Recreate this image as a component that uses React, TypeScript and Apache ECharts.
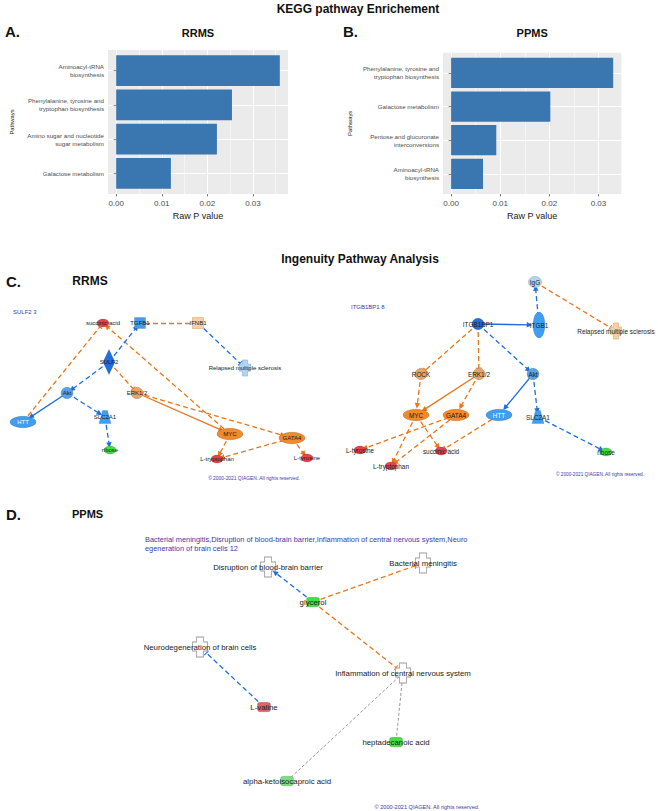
import React, { useEffect, useRef } from 'react';
import * as echarts from 'echarts';

// ---------------- KEGG pathway enrichment (raw P values) ----------------
const rrmsPathways = [
  'Aminoacyl-tRNA\nbiosynthesis',
  'Phenylalanine, tyrosine and\ntryptophan biosynthesis',
  'Amino sugar and nucleotide\nsugar metabolism',
  'Galactose metabolism',
];
const rrmsRawP = [0.0359, 0.0254, 0.0221, 0.012];

const ppmsPathways = [
  'Phenylalanine, tyrosine and\ntryptophan biosynthesis',
  'Galactose metabolism',
  'Pentose and glucuronate\ninterconversions',
  'Aminoacyl-tRNA\nbiosynthesis',
];
const ppmsRawP = [0.033, 0.0202, 0.0092, 0.0065];

const pValueTicks = [0, 0.01, 0.02, 0.03];
const pValueMinorTicks = [0.005, 0.015, 0.025, 0.035];

// ---------------- IPA network 1 (RRMS, SULF2) ----------------
const net1Nodes = ['succinic acid', 'TGFB1', 'IFNB1', 'SULF2', 'Relapsed multiple sclerosis', 'Akt', 'ERK1/2', 'HTT', 'SLC2A1', 'ribose', 'MYC', 'GATA4', 'L-tryptophan', 'L-tyrosine'];
const net1Kinds = ['chemical', 'cytokine', 'cytokine', 'enzyme', 'disease', 'kinase', 'group', 'tf', 'transporter', 'chemical', 'tf', 'tf', 'chemical', 'chemical'];
const net1States = ['up', 'inhibited', 'activatedPale', 'inhibitedStrong', 'inhibitedPale', 'inhibitedMid', 'activatedLight', 'inhibited', 'inhibited', 'down', 'activated', 'activated', 'up', 'up'];
const net1LayoutX = [103, 140, 198, 109, 245, 67, 137, 23, 105, 110, 230, 292, 217, 307];
const net1LayoutY = [53, 53, 53, 92, 98, 123, 123, 152, 147, 180, 164, 168, 189, 188];
const net1Edges = [
  ['HTT', 'succinic acid', 'activation', 'indirect', 'leadsTo'],
  ['MYC', 'succinic acid', 'activation', 'indirect', 'actsOn'],
  ['IFNB1', 'TGFB1', 'activation', 'indirect', 'none'],
  ['IFNB1', 'Relapsed multiple sclerosis', 'inhibition', 'indirect', 'leadsTo'],
  ['SULF2', 'TGFB1', 'inhibition', 'indirect', 'actsOn'],
  ['SULF2', 'Akt', 'inhibition', 'indirect', 'actsOn'],
  ['SULF2', 'ERK1/2', 'activation', 'indirect', 'leadsTo'],
  ['Akt', 'HTT', 'inhibition', 'direct', 'actsOn'],
  ['Akt', 'SLC2A1', 'inhibition', 'indirect', 'actsOn'],
  ['SLC2A1', 'ribose', 'inhibition', 'indirect', 'actsOn'],
  ['ERK1/2', 'MYC', 'activation', 'direct', 'actsOn'],
  ['ERK1/2', 'GATA4', 'activation', 'indirect', 'actsOn'],
  ['MYC', 'L-tryptophan', 'activation', 'indirect', 'actsOn'],
  ['GATA4', 'L-tryptophan', 'activation', 'indirect', 'actsOn'],
  ['GATA4', 'L-tyrosine', 'activation', 'indirect', 'actsOn'],
];

// ---------------- IPA network 2 (RRMS, ITGB1BP1) ----------------
const net2Nodes = ['IgG', 'ITGB1BP1', 'ITGB1', 'Relapsed multiple sclerosis', 'ROCK', 'ERK1/2', 'Akt', 'MYC', 'GATA4', 'HTT', 'SLC2A1', 'L-tyrosine', 'succinic acid', 'L-tryptophan', 'ribose'];
const net2Kinds = ['complex', 'kinase', 'receptor', 'disease', 'group', 'group', 'kinase', 'tf', 'tf', 'tf', 'transporter', 'chemical', 'chemical', 'chemical', 'chemical'];
const net2States = ['inhibitedPale', 'inhibitedStrong', 'inhibited', 'activatedPale', 'activatedLight', 'activatedLight', 'inhibitedMid', 'activated', 'activated', 'inhibited', 'inhibited', 'up', 'up', 'up', 'down'];
const net2LayoutX = [207, 150, 211, 288, 93, 151, 205, 88, 128, 171, 210, 32, 113, 63, 278];
const net2LayoutY = [12, 54, 55, 61, 104, 104, 104, 145, 145, 145, 147, 180, 181, 196, 182];
const net2Edges = [
  ['ITGB1', 'IgG', 'inhibition', 'indirect', 'actsOn'],
  ['IgG', 'Relapsed multiple sclerosis', 'activation', 'indirect', 'leadsTo'],
  ['ITGB1BP1', 'ITGB1', 'inhibition', 'direct', 'actsOn'],
  ['ITGB1BP1', 'ROCK', 'activation', 'indirect', 'leadsTo'],
  ['ITGB1BP1', 'ERK1/2', 'activation', 'indirect', 'leadsTo'],
  ['ITGB1BP1', 'Akt', 'inhibition', 'indirect', 'actsOn'],
  ['ROCK', 'MYC', 'activation', 'indirect', 'actsOn'],
  ['ERK1/2', 'MYC', 'activation', 'direct', 'actsOn'],
  ['ERK1/2', 'GATA4', 'activation', 'indirect', 'actsOn'],
  ['Akt', 'HTT', 'inhibition', 'direct', 'actsOn'],
  ['Akt', 'SLC2A1', 'inhibition', 'indirect', 'actsOn'],
  ['SLC2A1', 'ribose', 'inhibition', 'indirect', 'actsOn'],
  ['GATA4', 'L-tyrosine', 'activation', 'indirect', 'actsOn'],
  ['MYC', 'L-tryptophan', 'activation', 'indirect', 'actsOn'],
  ['GATA4', 'L-tryptophan', 'activation', 'indirect', 'actsOn'],
  ['MYC', 'succinic acid', 'activation', 'indirect', 'actsOn'],
  ['HTT', 'succinic acid', 'activation', 'indirect', 'leadsTo'],
];

// ---------------- IPA network 3 (PPMS) ----------------
const net3Nodes = ['Disruption of blood-brain barrier', 'Bacterial meningitis', 'glycerol', 'Neurodegeneration of brain cells', 'Inflammation of central nervous system', 'L-valine', 'heptadecanoic acid', 'alpha-ketoisocaproic acid'];
const net3Kinds = ['disease', 'disease', 'chemicalD', 'disease', 'disease', 'chemicalD', 'chemicalD', 'chemicalD'];
const net3States = ['none', 'none', 'down', 'none', 'none', 'upSoft', 'down', 'downLight'];
const net3LayoutX = [168, 323, 213, 100, 303, 164, 296, 187];
const net3LayoutY = [27, 23, 62, 107, 133, 167, 202, 241];
const net3Edges = [
  ['glycerol', 'Disruption of blood-brain barrier', 'inhibition', 'indirect', 'actsOn'],
  ['glycerol', 'Bacterial meningitis', 'activation', 'indirect', 'leadsTo'],
  ['glycerol', 'Inflammation of central nervous system', 'activation', 'indirect', 'leadsTo'],
  ['L-valine', 'Neurodegeneration of brain cells', 'inhibition', 'indirect', 'leadsTo'],
  ['Inflammation of central nervous system', 'heptadecanoic acid', 'unknown', 'indirect', 'none'],
  ['Inflammation of central nervous system', 'alpha-ketoisocaproic acid', 'unknown', 'indirect', 'none'],
];
const net3Header = [
  'Bacterial meningitis,Disruption of blood-brain barrier,Inflammation of central nervous system,Neuro',
  'egeneration of brain cells 12',
];

// ---------------- styles ----------------
const FONT = 'Liberation Sans, Arial, Helvetica, sans-serif';
const IPA_BLUE_TEXT = '#3b3aa6';
const COPYRIGHT = '\u00a9 2000-2021 QIAGEN. All rights reserved.';

const ELLIPSE = 'path://M5,0C7.76,0,10,2.24,10,5C10,7.76,7.76,10,5,10C2.24,10,0,7.76,0,5C0,2.24,2.24,0,5,0Z';
const CROSS = 'path://M4,0H11V5H15V14H11V20H4V14H0V5H4Z';
const TRAPEZOID = 'path://M3,0H7L10,10H0Z';
const BAR_END = 'path://M0,4.1H10V5.9H0Z M5,0H5.02V10H5Z';

const stateColor: Record<string, string> = {
  up: '#e8434c',
  upSoft: '#e06468',
  down: '#3fe03f',
  downLight: '#7ae07a',
  activated: '#f08a2c',
  activatedLight: '#eca466',
  activatedPale: '#f8cfa2',
  inhibited: '#3f9ef0',
  inhibitedMid: '#5aa2e6',
  inhibitedStrong: '#1f6fdc',
  inhibitedPale: '#b2d5f3',
  none: '#ffffff',
};
const stateBorder: Record<string, string> = {
  none: '#9a9a9a',
  activatedPale: '#d9ab78',
  inhibitedPale: '#86afd8',
};
const edgeColor: Record<string, string> = {
  activation: '#e8761c',
  inhibition: '#1c6fdc',
  unknown: '#8a8a8a',
};

function shapeOf(kind: string, large: boolean) {
  switch (kind) {
    case 'chemical': return { symbol: ELLIPSE, size: [12, 8] };
    case 'chemicalD': return { symbol: 'roundRect', size: [13, 9.5] };
    case 'cytokine': return { symbol: 'rect', size: [11, 11] };
    case 'enzyme': return { symbol: 'diamond', size: [12, 25] };
    case 'disease': return { symbol: CROSS, size: large ? [15, 20] : [11, 16] };
    case 'tf': return { symbol: ELLIPSE, size: [26, 11.5] };
    case 'transporter': return { symbol: TRAPEZOID, size: [12, 13] };
    case 'receptor': return { symbol: ELLIPSE, size: [12, 26] };
    case 'complex': return { symbol: ELLIPSE, size: [13, 11] };
    default: return { symbol: ELLIPSE, size: [12, 11.5] };
  }
}

function buildNetwork(
  names: string[], xs: number[], ys: number[], kinds: string[], states: string[],
  edges: string[][], xAxisIndex: number, yAxisIndex: number, fontSize: number, large: boolean
) {
  const data = names.map((name, i) => {
    const shape = shapeOf(kinds[i], large);
    const st = states[i];
    const whiteText = kinds[i] === 'tf' && st.indexOf('inhibited') === 0;
    return {
      name,
      value: [xs[i], ys[i]],
      symbol: shape.symbol,
      symbolSize: shape.size,
      itemStyle: {
        color: stateColor[st],
        borderColor: stateBorder[st] || 'rgba(0,0,0,0.22)',
        borderWidth: st === 'none' ? 0.9 : 0.6,
      },
      label: { color: whiteText ? '#ffffff' : '#1a1a1a' },
    };
  });
  const links = edges.map(([source, target, effect, mode, end]) => ({
    source,
    target,
    symbol: ['none', end === 'actsOn' ? 'triangle' : end === 'leadsTo' ? BAR_END : 'none'],
    symbolSize: end === 'actsOn' ? 5.5 : 6,
    lineStyle: {
      color: edgeColor[effect],
      width: effect === 'unknown' ? 0.9 : 1.3,
      type: mode === 'direct' ? 'solid' : effect === 'unknown' ? [3, 2] : [5, 3],
      opacity: 1,
      curveness: 0,
    },
  }));
  return {
    type: 'graph',
    coordinateSystem: 'cartesian2d',
    xAxisIndex,
    yAxisIndex,
    data,
    links,
    silent: true,
    emphasis: { disabled: true },
    label: { show: true, position: 'inside', fontSize, fontFamily: FONT, color: '#1a1a1a' },
    z: 3,
  };
}

function ggExtent(values: number[]) {
  const m = Math.max(...values);
  return [-m * 0.05, m * 1.05];
}

const PANEL_A = { left: 108, top: 50, width: 180, height: 144 };
const PANEL_B = { left: 443, top: 52.7, width: 178.3, height: 141.3 };

function barGrid(p: { left: number; top: number; width: number; height: number }) {
  const unit = p.height / 4.2;
  return { left: p.left, top: p.top + 0.1 * unit, width: p.width, height: unit * 4, show: false };
}

function panelXAxes(gridIndex: number, ext: number[]) {
  return [
    {
      type: 'value', gridIndex, min: ext[0], max: ext[1],
      name: 'Raw P value', nameLocation: 'middle', nameGap: 17,
      nameTextStyle: { fontSize: 9, color: '#1a1a1a', fontFamily: FONT },
      axisLine: { show: false },
      axisTick: { show: true, length: 2.5, lineStyle: { color: '#4d4d4d', width: 0.7 }, customValues: pValueTicks },
      axisLabel: {
        customValues: pValueTicks, fontSize: 8, color: '#4d4d4d', margin: 5, fontFamily: FONT,
        formatter: (v: number) => v.toFixed(2),
      },
      splitLine: { show: true, lineStyle: { color: '#ffffff', width: 1.1 } },
    },
    {
      type: 'value', gridIndex, min: ext[0], max: ext[1],
      axisLine: { show: false },
      axisTick: { show: false, customValues: pValueMinorTicks },
      axisLabel: { show: false, customValues: pValueMinorTicks },
      splitLine: { show: true, lineStyle: { color: '#ffffff', width: 0.5 } },
    },
    { type: 'value', gridIndex: gridIndex + 1, min: ext[0], max: ext[1], show: false },
  ];
}

function panelYAxes(gridIndex: number, names: string[], nameGap: number) {
  const idx = names.map((_, i) => i + 1);
  return [
    {
      type: 'value', gridIndex, min: 0.4, max: 4.6, inverse: true,
      name: 'Pathways', nameLocation: 'middle', nameRotate: 90, nameGap,
      nameTextStyle: { fontSize: 5.8, color: '#1a1a1a', fontFamily: FONT },
      axisLine: { show: false },
      axisTick: { show: true, length: 2.5, lineStyle: { color: '#4d4d4d', width: 0.7 }, customValues: idx },
      axisLabel: {
        customValues: idx, fontSize: 6.2, lineHeight: 8, color: '#4d4d4d', margin: 4, fontFamily: FONT,
        formatter: (v: number) => names[Math.round(v) - 1] || '',
      },
      splitLine: { show: true, lineStyle: { color: '#ffffff', width: 1.1 } },
    },
    { type: 'category', gridIndex: gridIndex + 1, data: names, inverse: true, show: false },
  ];
}

function txt(text: string, x: number, y: number, fontSize: number, opts: any = {}) {
  return {
    type: 'text', x, y, silent: true,
    style: {
      text, fontSize, fontFamily: FONT, fill: opts.fill || '#111111',
      fontWeight: opts.bold ? 'bold' : 'normal',
      align: opts.align || 'left', verticalAlign: 'middle',
    },
  };
}

export default function App() {
  const ref = useRef<HTMLDivElement>(null);
  useEffect(() => {
    if (!ref.current) return;
    const chart = echarts.init(ref.current, undefined, { renderer: 'svg' });
    const extA = ggExtent(rrmsRawP);
    const extB = ggExtent(ppmsRawP);
    const option: any = {
      animation: false,
      backgroundColor: '#ffffff',
      textStyle: { fontFamily: FONT },
      grid: [
        { ...PANEL_A, show: true, backgroundColor: '#ebebeb', borderWidth: 0 },
        barGrid(PANEL_A),
        { ...PANEL_B, show: true, backgroundColor: '#ebebeb', borderWidth: 0 },
        barGrid(PANEL_B),
        { left: 0, top: 270, width: 330, height: 220, show: false },
        { left: 328, top: 270, width: 330, height: 220, show: false },
        { left: 100, top: 540, width: 450, height: 271, show: false },
      ],
      xAxis: [
        ...panelXAxes(0, extA), // 0,1,2
        ...panelXAxes(2, extB), // 3,4,5
        { type: 'value', gridIndex: 4, min: 0, max: 330, show: false }, // 6
        { type: 'value', gridIndex: 5, min: 0, max: 330, show: false }, // 7
        { type: 'value', gridIndex: 6, min: 0, max: 450, show: false }, // 8
      ],
      yAxis: [
        ...panelYAxes(0, rrmsPathways, 93), // 0,1
        ...panelYAxes(2, ppmsPathways, 90), // 2,3
        { type: 'value', gridIndex: 4, min: 0, max: 220, inverse: true, show: false }, // 4
        { type: 'value', gridIndex: 5, min: 0, max: 220, inverse: true, show: false }, // 5
        { type: 'value', gridIndex: 6, min: 0, max: 271, inverse: true, show: false }, // 6
      ],
      series: [
        {
          type: 'bar', xAxisIndex: 2, yAxisIndex: 1, data: rrmsRawP,
          barCategoryGap: '10%', itemStyle: { color: '#3a76af' }, silent: true, z: 2,
        },
        {
          type: 'bar', xAxisIndex: 5, yAxisIndex: 3, data: ppmsRawP,
          barCategoryGap: '10%', itemStyle: { color: '#3a76af' }, silent: true, z: 2,
        },
        buildNetwork(net1Nodes, net1LayoutX, net1LayoutY, net1Kinds, net1States, net1Edges, 6, 4, 6, false),
        buildNetwork(net2Nodes, net2LayoutX, net2LayoutY, net2Kinds, net2States, net2Edges, 7, 5, 6.4, false),
        buildNetwork(net3Nodes, net3LayoutX, net3LayoutY, net3Kinds, net3States, net3Edges, 8, 6, 7.8, true),
      ],
      graphic: [
        txt('KEGG pathway Enrichement', 358, 9, 12, { bold: true, align: 'center' }),
        txt('A.', 5, 31, 15, { bold: true }),
        txt('B.', 343, 31, 15, { bold: true }),
        txt('RRMS', PANEL_A.left + PANEL_A.width / 2, 33, 11, { bold: true, align: 'center' }),
        txt('PPMS', PANEL_B.left + PANEL_B.width / 2, 33, 11, { bold: true, align: 'center' }),
        txt('Ingenuity Pathway Analysis', 360, 259, 12, { bold: true, align: 'center' }),
        txt('C.', 6, 281, 15, { bold: true }),
        txt('RRMS', 90, 281, 12, { bold: true, align: 'center' }),
        txt('SULF2 3', 13, 312, 6, { fill: IPA_BLUE_TEXT }),
        txt('ITGB1BP1 8', 351, 307, 6, { fill: IPA_BLUE_TEXT }),
        txt(COPYRIGHT, 254, 478, 4.9, { fill: IPA_BLUE_TEXT, align: 'center' }),
        txt(COPYRIGHT, 600, 474, 4.7, { fill: IPA_BLUE_TEXT, align: 'center' }),
        txt('D.', 6, 514, 15, { bold: true }),
        txt('PPMS', 72, 514, 11, { bold: true }),
        txt(net3Header[0], 145, 539, 7.4, { fill: IPA_BLUE_TEXT }),
        txt(net3Header[1], 145, 548, 7.4, { fill: IPA_BLUE_TEXT }),
        txt(COPYRIGHT, 427, 807, 5.6, { fill: IPA_BLUE_TEXT, align: 'center' }),
      ],
    };
    chart.setOption(option);
    return () => chart.dispose();
  }, []);
  return <div ref={ref} style={{ position: 'absolute', left: 0, top: 0, width: 658, height: 811 }} />;
}
